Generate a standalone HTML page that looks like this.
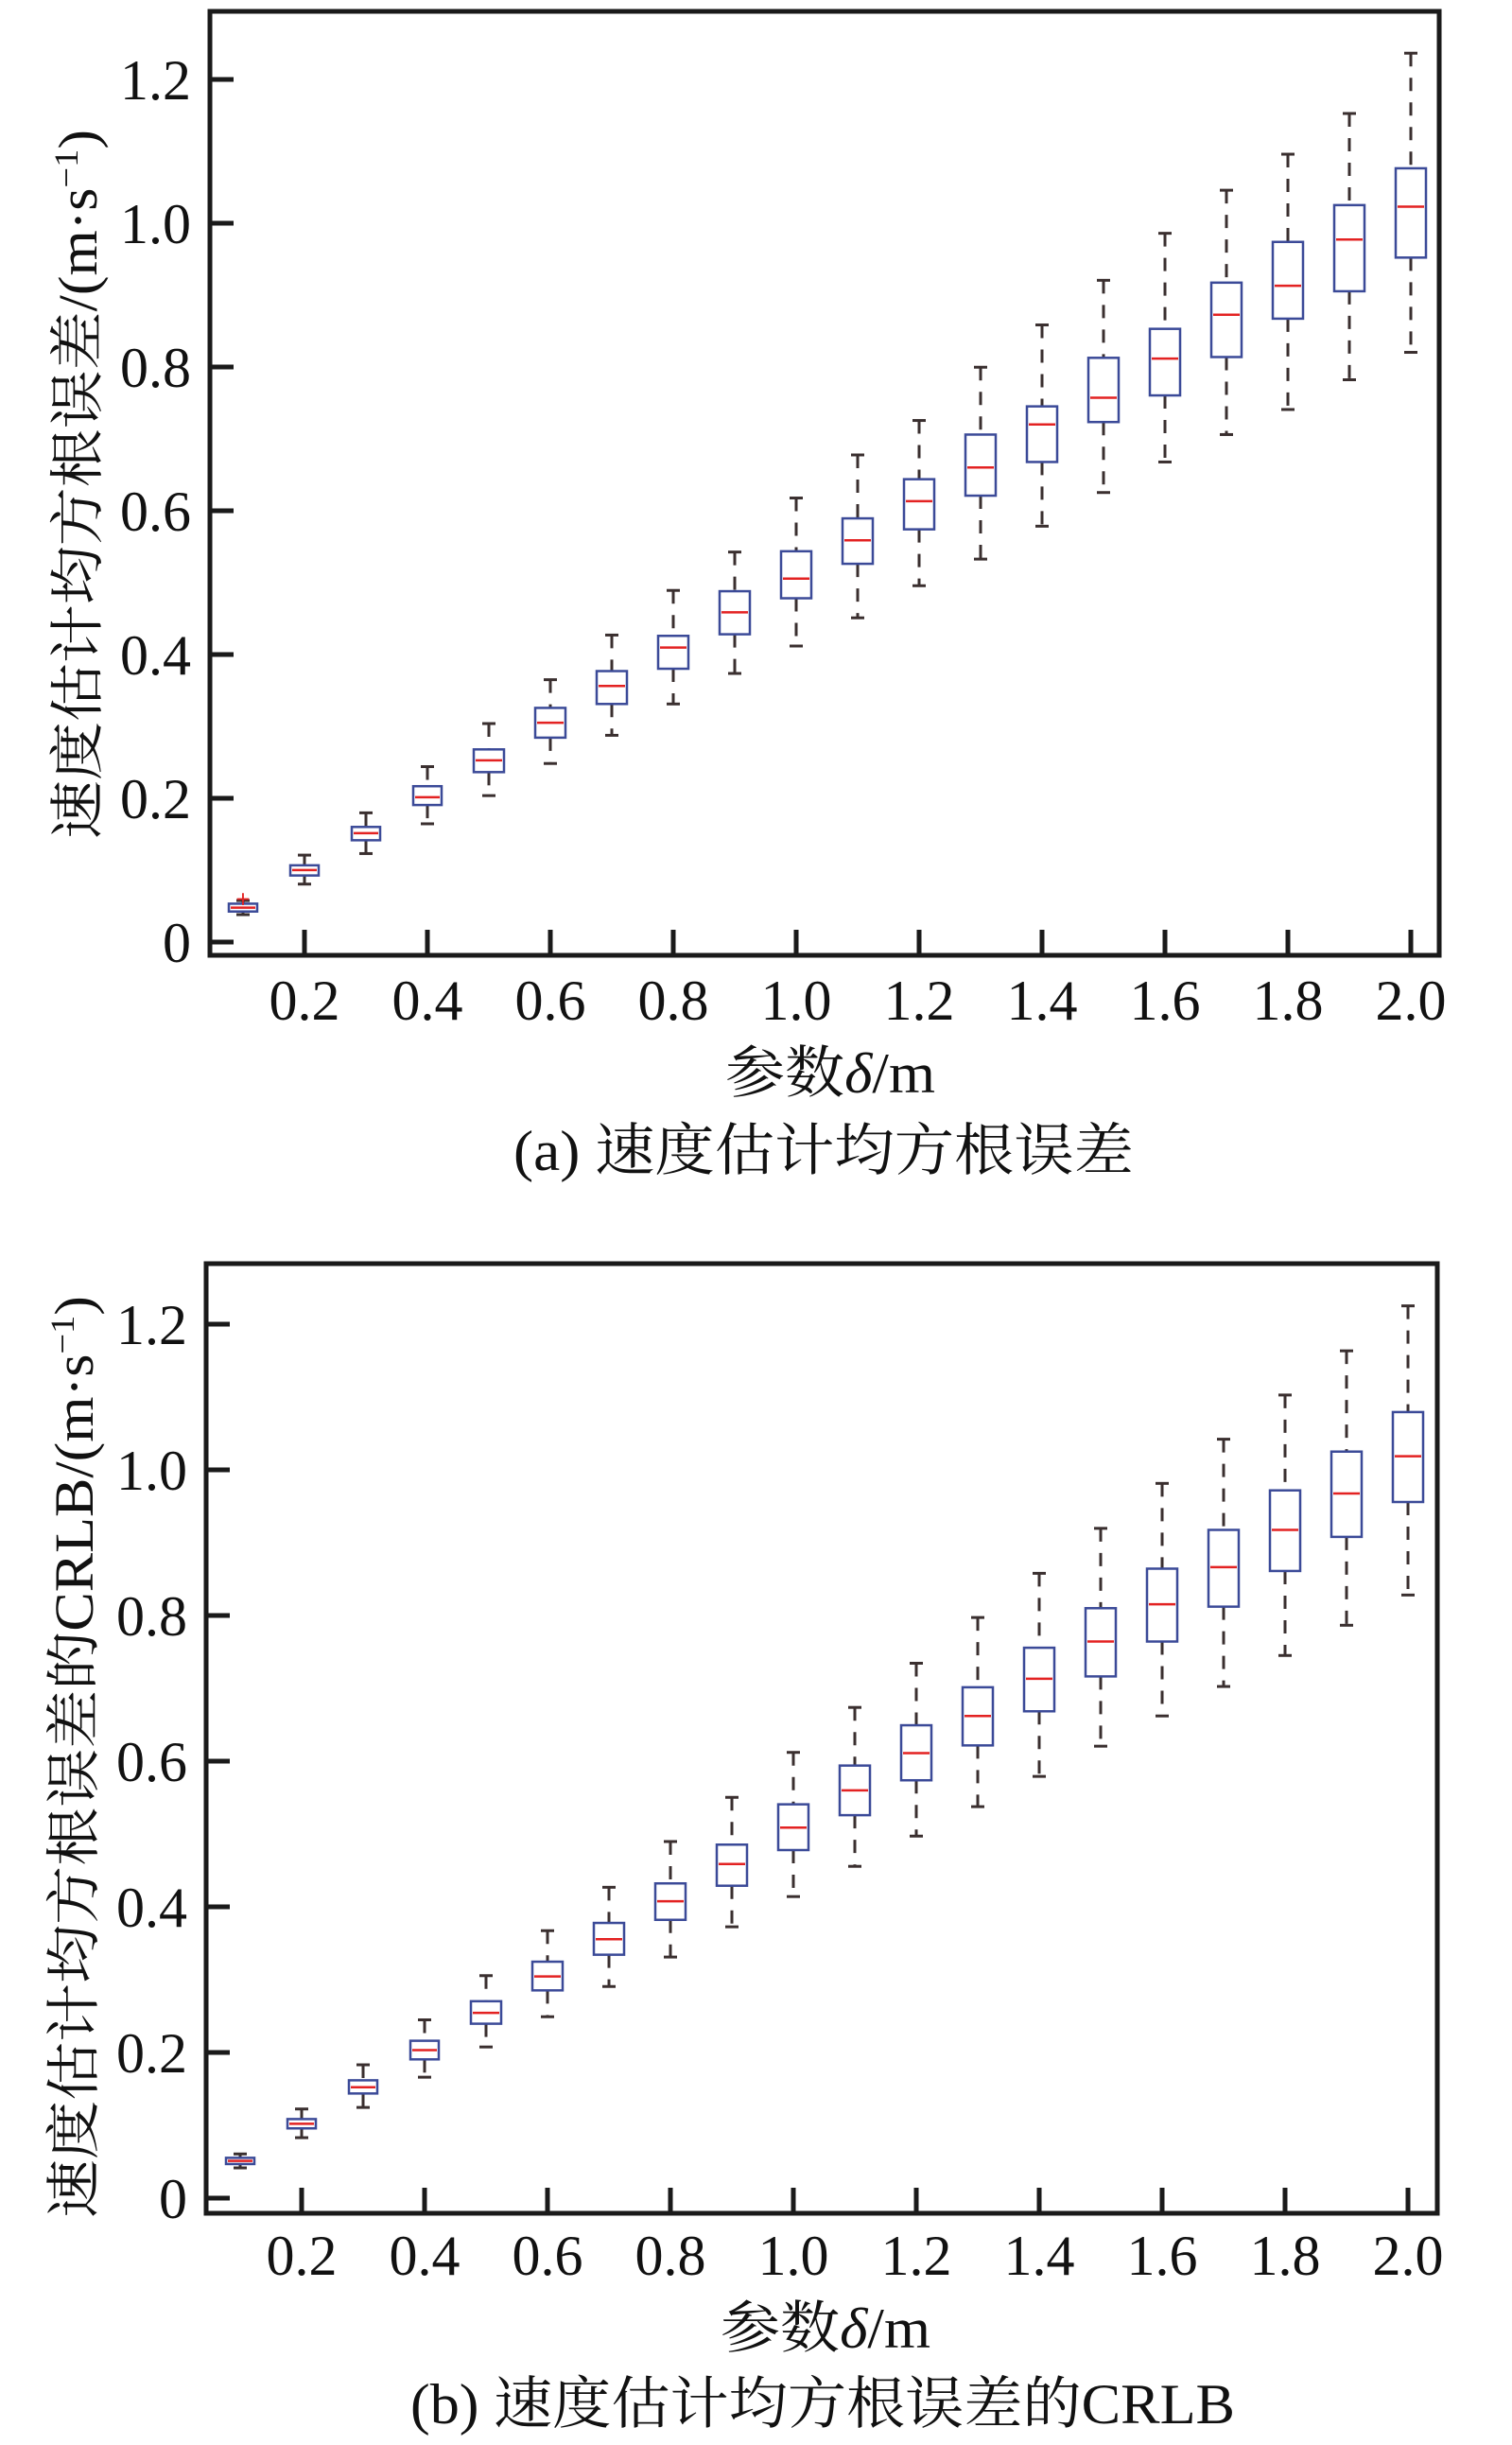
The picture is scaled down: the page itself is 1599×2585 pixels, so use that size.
<!DOCTYPE html>
<html><head><meta charset="utf-8"><style>
html,body{margin:0;padding:0;background:#fff;}
svg{display:block;}
.t{font-family:"Liberation Serif","Noto Serif CJK SC",serif;fill:#111;}
</style></head><body>
<svg id="s" width="1599" height="2585" viewBox="0 0 1599 2585" xmlns="http://www.w3.org/2000/svg">
<rect width="1599" height="2585" fill="#fff"/>
<g id="plots"></g>
<!-- Panel a frame -->
<rect x="222" y="12" width="1300" height="998" fill="none" stroke="#1a1a1a" stroke-width="5"/>
<!-- Panel b frame -->
<rect x="218" y="1336" width="1302" height="1004" fill="none" stroke="#1a1a1a" stroke-width="5"/>
<g class="t" font-size="60" text-anchor="end">
<text x="202" y="1017">0</text>
<text x="202" y="865">0.2</text>
<text x="202" y="713">0.4</text>
<text x="202" y="561">0.6</text>
<text x="202" y="409">0.8</text>
<text x="202" y="257">1.0</text>
<text x="202" y="105">1.2</text>
</g>
<g class="t" font-size="60" text-anchor="middle">
<text x="322" y="1078">0.2</text><text x="452" y="1078">0.4</text><text x="582" y="1078">0.6</text><text x="712" y="1078">0.8</text><text x="842" y="1078">1.0</text><text x="972" y="1078">1.2</text><text x="1102" y="1078">1.4</text><text x="1232" y="1078">1.6</text><text x="1362" y="1078">1.8</text><text x="1492" y="1078">2.0</text>
</g>
<text class="t" x="767" y="1155" font-size="60" textLength="222" lengthAdjust="spacingAndGlyphs">参数<tspan font-style="italic">δ</tspan>/m</text>
<text class="t" x="543" y="1237" font-size="60" textLength="656" lengthAdjust="spacingAndGlyphs">(a) 速度估计均方根误差</text>
<text class="t" font-size="58" transform="translate(102,887) rotate(-90)" textLength="750" lengthAdjust="spacingAndGlyphs">速度估计均方根误差/(m·s<tspan dy="-20" font-size="36">−1</tspan><tspan dy="20">)</tspan></text>

<g class="t" font-size="60" text-anchor="end">
<text x="198" y="2345">0</text>
<text x="198" y="2191">0.2</text>
<text x="198" y="2037">0.4</text>
<text x="198" y="1883">0.6</text>
<text x="198" y="1729">0.8</text>
<text x="198" y="1575">1.0</text>
<text x="198" y="1421">1.2</text>
</g>
<g class="t" font-size="60" text-anchor="middle">
<text x="319" y="2405">0.2</text><text x="449" y="2405">0.4</text><text x="579" y="2405">0.6</text><text x="709" y="2405">0.8</text><text x="839" y="2405">1.0</text><text x="969" y="2405">1.2</text><text x="1099" y="2405">1.4</text><text x="1229" y="2405">1.6</text><text x="1359" y="2405">1.8</text><text x="1489" y="2405">2.0</text>
</g>
<text class="t" x="762" y="2482" font-size="60" textLength="222" lengthAdjust="spacingAndGlyphs">参数<tspan font-style="italic">δ</tspan>/m</text>
<text class="t" x="434" y="2562" font-size="60" textLength="872" lengthAdjust="spacingAndGlyphs">(b) 速度估计均方根误差的CRLB</text>
<text class="t" font-size="58" transform="translate(98,2345) rotate(-90)" textLength="975" lengthAdjust="spacingAndGlyphs">速度估计均方根误差的CRLB/(m·s<tspan dy="-20" font-size="36">−1</tspan><tspan dy="20">)</tspan></text>
</svg>
<script>
var A=[[1166,1162,1157,1152,1148],[1127,1116,1109,1103,1090],[1088,1071,1062,1054,1036],[1050,1026,1016,1002,977],[1014,984,969,955,922],[973,940,921,902,866],[937,897,874,855,809],[897,852,825,810,752],[858,808,780,753,703],[823,762,737,702,634],[787,718,688,660,579],[746,674,638,610,535],[712,631,595,553,467],[670,588,540,517,413],[627,537,506,455,356],[588,503,456,418,296],[553,454,400,359,241],[521,405,363,307,195],[483,370,304,260,143],[448,327,262,213,66]];
var B=[[1211,1206,1202,1198,1193],[1172,1160,1154,1148,1135],[1133,1115,1107,1098,1078],[1094,1071,1059,1047,1020],[1055,1025,1011,996,963],[1016,982,964,945,905],[977,936,916,895,849],[939,891,867,844,790],[900,847,819,794,733],[861,801,772,742,675],[822,756,724,692,617],[783,711,676,640,560],[745,666,628,591,501],[706,622,580,540,444],[667,577,532,489,386],[628,532,484,438,328],[590,487,436,388,271],[550,441,388,337,214],[511,397,341,287,157],[472,352,293,236,99]];
var h='';
function draw(D,x0,f,frameBottom,frameLeft,y0tick){
 for(var i=0;i<D.length;i++){
  var x=x0+i*65,v=D[i].map(f),w=i<4?30:32;
  h+='<line x1="'+x+'" y1="'+v[4]+'" x2="'+x+'" y2="'+v[3]+'" stroke="#3a2f2f" stroke-width="3" stroke-dasharray="14,12"/>';
  h+='<line x1="'+x+'" y1="'+v[1]+'" x2="'+x+'" y2="'+v[0]+'" stroke="#3a2f2f" stroke-width="3" stroke-dasharray="14,12"/>';
  h+='<line x1="'+(x-7)+'" y1="'+v[4]+'" x2="'+(x+7)+'" y2="'+v[4]+'" stroke="#3a2f2f" stroke-width="3"/>';
  h+='<line x1="'+(x-7)+'" y1="'+v[0]+'" x2="'+(x+7)+'" y2="'+v[0]+'" stroke="#3a2f2f" stroke-width="3"/>';
  h+='<rect x="'+(x-w/2)+'" y="'+v[3]+'" width="'+w+'" height="'+Math.max(v[1]-v[3],3)+'" fill="#fff" stroke="#3b4a98" stroke-width="2.5"/>';
  h+='<line x1="'+(x-w/2+2)+'" y1="'+v[2]+'" x2="'+(x+w/2-2)+'" y2="'+v[2]+'" stroke="#e32222" stroke-width="2.5"/>';
 }
 for(var k=1;k<=10;k++){var tx=x0+(2*k-1)*65;h+='<line x1="'+tx+'" y1="'+frameBottom+'" x2="'+tx+'" y2="'+(frameBottom-27)+'" stroke="#1a1a1a" stroke-width="5"/>';}
 for(var j=0;j<=6;j++){var ty=y0tick-j*0.2*(f===fa?760:770);h+='<line x1="'+frameLeft+'" y1="'+ty+'" x2="'+(frameLeft+25)+'" y2="'+ty+'" stroke="#1a1a1a" stroke-width="5"/>';}
}
function fa(d){return 996-(1201-d)*0.828;}
function fb(d){return 2324-(1250-d)*0.8196;}
draw(A,257,fa,1010,222,996);
draw(B,254,fb,2340,218,2324);
h+='<text x="257" y="'+(fa(1147)+8)+'" font-size="26" fill="#e32222" text-anchor="middle" font-family="Liberation Sans">+</text>';
document.getElementById('plots').innerHTML=h;
</script>
</body></html>
